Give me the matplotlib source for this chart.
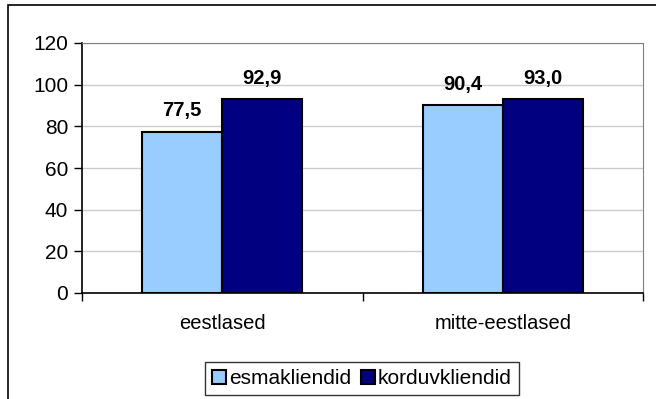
import matplotlib
matplotlib.use("Agg")
import matplotlib.pyplot as plt
import numpy as np
from matplotlib.patches import Rectangle

plt.rcParams['font.family'] = ['Liberation Sans', 'DejaVu Sans']

categories = ["eestlased", "mitte-eestlased"]
series_names = ["esmakliendid", "korduvkliendid"]
esmakliendid = [77.5, 90.4]
korduvkliendid = [92.9, 93.0]
value_labels = [["77,5", "90,4"], ["92,9", "93,0"]]
yticks = [0, 20, 40, 60, 80, 100, 120]

W, H = 656, 399
fig = plt.figure(figsize=(W / 100, H / 100), dpi=100)
ax = fig.add_axes([82 / W, 1 - 293 / H, (643 - 82) / W, (293 - 43) / H])

x = np.arange(len(categories))
bw = 0.285
colors = ["#99CCFF", "#000080"]
for i, (vals, lbls) in enumerate(zip([esmakliendid, korduvkliendid], value_labels)):
    pos = x + (i - 0.5) * bw
    ax.bar(pos, vals, width=bw, color=colors[i], edgecolor="black", linewidth=1.5,
           label=series_names[i], zorder=3)
    for p, v, t in zip(pos, vals, lbls):
        ax.annotate(t, (p, v), xytext=(0, 8), textcoords="offset points",
                    ha="center", va="bottom", fontsize=14.5, fontweight="bold")

ax.set_xlim(-0.5, len(categories) - 0.5)
ax.set_ylim(0, 120)
ax.set_yticks(yticks)
ax.tick_params(axis="y", direction="out", length=6, width=1, labelsize=15, pad=4)
ax.set_xticks(x)
ax.set_xticklabels(categories, fontsize=14.5)
ax.tick_params(axis="x", length=0, pad=15)
ax.set_xticks([-0.5, 0.5, 1.5], minor=True)
ax.tick_params(axis="x", which="minor", direction="out", length=6, width=1)
ax.grid(axis="y", color="#CCCCCC", linewidth=1, zorder=0)
ax.set_axisbelow(True)
ax.spines["left"].set_color("black")
ax.spines["bottom"].set_color("black")
ax.spines["top"].set_color("#808080")
ax.spines["right"].set_color("#808080")
for s in ["left", "bottom"]:
    ax.spines[s].set_linewidth(1.2)

leg = ax.legend(loc="center", bbox_to_anchor=(362 / W, 1 - 378.5 / H),
                bbox_transform=fig.transFigure, ncol=2, frameon=True, fancybox=False,
                fontsize=15, handlelength=0.65, handleheight=0.65, handletextpad=0.15,
                columnspacing=0.5, borderpad=0.35, borderaxespad=0, edgecolor="black")
leg.get_frame().set_linewidth(1)

fig.patches.append(Rectangle((8 / W, -0.1), 1.2, 1 - 5 / H + 0.1, transform=fig.transFigure,
                             fill=False, edgecolor="black", linewidth=1.2))

fig.savefig("out.png", dpi=100)
